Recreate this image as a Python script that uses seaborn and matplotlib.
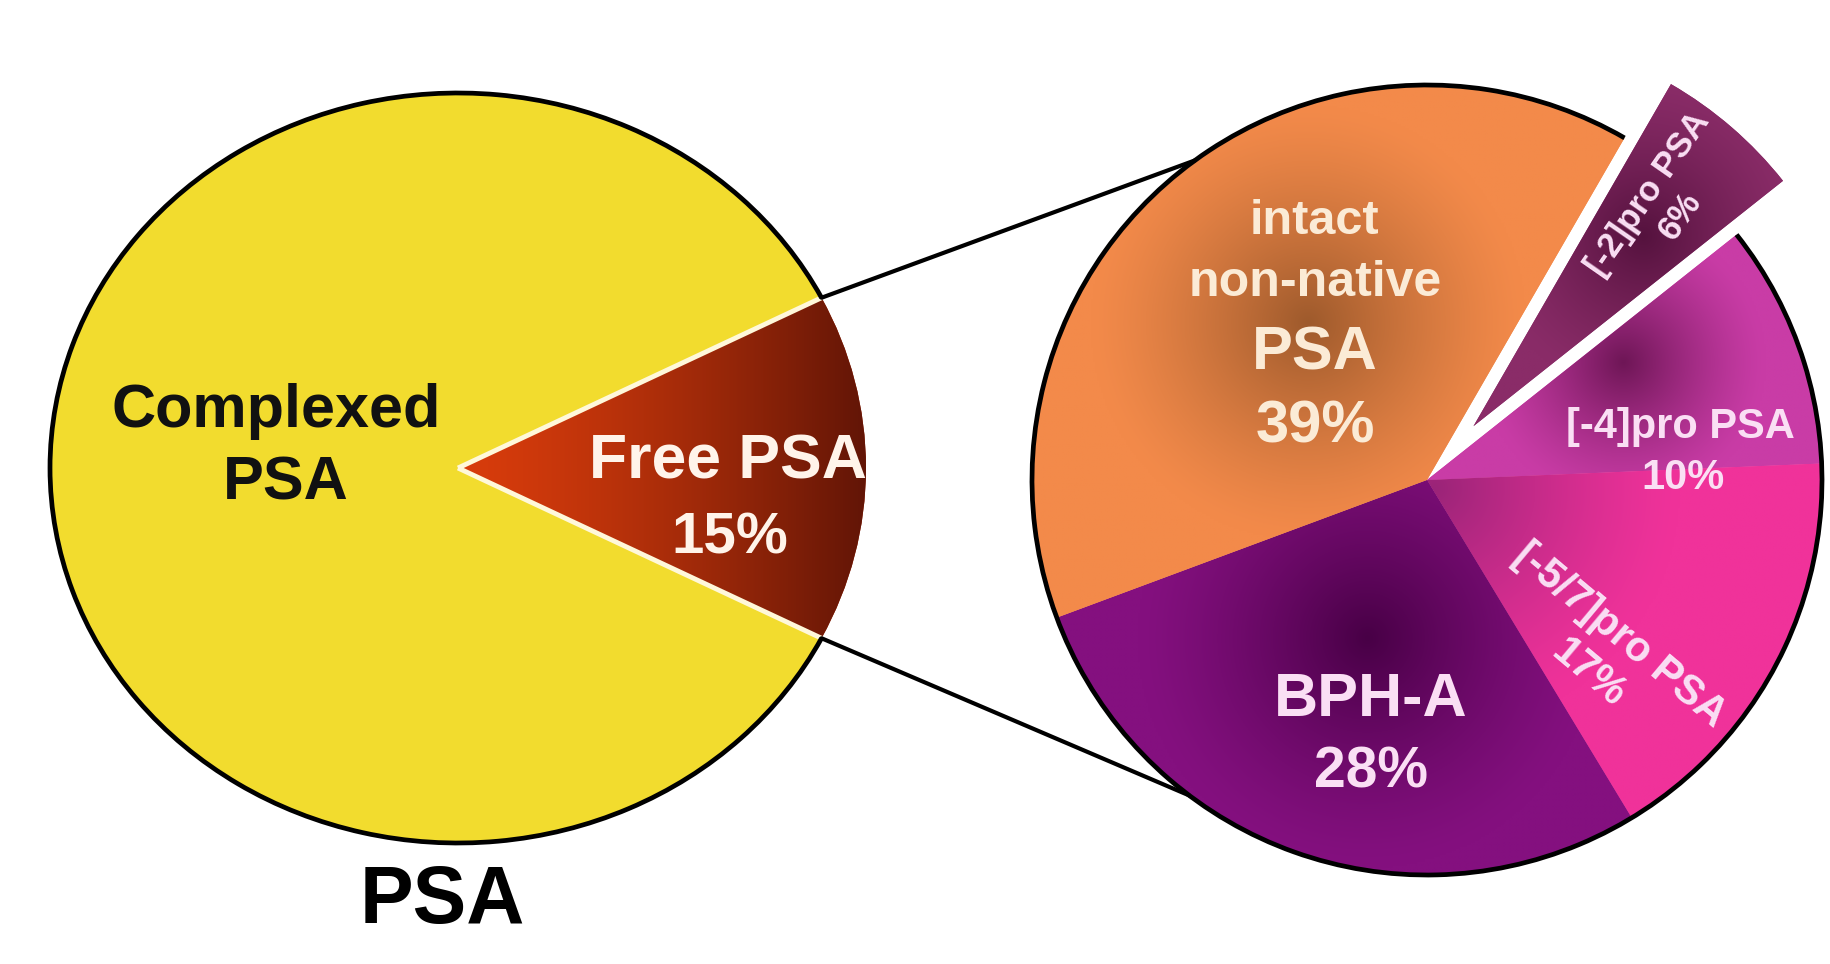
import numpy as np
import matplotlib
matplotlib.use("Agg")
import matplotlib.pyplot as plt
from matplotlib.patches import Arc, ConnectionPatch
from matplotlib.colors import to_rgb
import seaborn as sns

# ---------------- data ----------------
outer_labels = ["Free PSA", "Complexed PSA"]
outer_values = [15, 85]
inner_labels = ["[-2]pro PSA", "[-4]pro PSA", "[-5/7]pro PSA", "BPH-A", "intact non-native PSA"]
inner_values = [6, 10, 17, 28, 39]
inner_explode = [0.18, 0, 0, 0, 0]
chart_title = "PSA"

# ---------------- style ----------------
sns.set_theme(style="white")
plt.rcParams["font.family"] = ["Liberation Sans", "DejaVu Sans"]

outer_colors = ["#A82C0C", "#F2DC2E"]
inner_base = ["#8A2C68", "#C93CA6", "#F0329A", "#84107F", "#F38A4A"]
inner_dark = ["#55123E", "#6E1656", "#9A2478", "#480046", "#9E5A2C"]
inner_spot = [(0.55, 0.62, 0.40), (0.50, 0.30, 0.36), (0.02, -0.02, 0.62),
              (-0.15, -0.40, 0.58), (-0.30, 0.40, 0.55)]

W, H = 1831, 964
fig = plt.figure(figsize=(W / 100, H / 100), dpi=100)
fig.patch.set_facecolor("white")


def pie_axes(cx, cy, rx, ry, L):
    ax = fig.add_axes([(cx - L * rx) / W, (H - cy - L * ry) / H,
                       2 * L * rx / W, 2 * L * ry / H])
    return ax


def finish(ax, L):
    ax.set_xlim(-L, L)
    ax.set_ylim(-L, L)
    ax.set_aspect("auto")
    ax.axis("off")


def gradient(ax, wedge, func, L, n=500):
    xs = np.linspace(-L, L, n)
    X, Y = np.meshgrid(xs, xs)
    rgb = func(X, Y)
    im = ax.imshow(rgb, extent=(-L, L, -L, L), origin="lower", aspect="auto",
                   interpolation="bilinear", zorder=wedge.get_zorder() + 0.1)
    im.set_clip_path(wedge)


def radial(base, dark, cx, cy, R, p=1.3):
    b = np.array(to_rgb(base))
    d = np.array(to_rgb(dark))

    def f(X, Y):
        t = np.clip(1 - np.hypot(X - cx, Y - cy) / R, 0, 1) ** p
        return b[None, None, :] * (1 - t[..., None]) + d[None, None, :] * t[..., None]
    return f


def linear_x(c0, c1, x0, x1):
    a = np.array(to_rgb(c0))
    b = np.array(to_rgb(c1))

    def f(X, Y):
        t = np.clip((X - x0) / (x1 - x0), 0, 1) ** 1.4
        return a[None, None, :] * (1 - t[..., None]) + b[None, None, :] * t[..., None]
    return f


# ---------------- left pie ----------------
L1 = 1.12
ax1 = pie_axes(458, 468, 408, 375, L1)
w1, _ = ax1.pie(outer_values, startangle=-outer_values[0] * 1.8, counterclock=True,
                colors=outer_colors, wedgeprops=dict(linewidth=0))
finish(ax1, L1)
free = w1[0]
gradient(ax1, free, linear_x("#D83C0C", "#621506", 0.0, 1.0), L1)
for th in (free.theta1, free.theta2):
    ax1.plot([0, np.cos(np.radians(th))], [0, np.sin(np.radians(th))],
             color="#FFF8DA", lw=3.5, solid_capstyle="butt", zorder=3)
ax1.add_patch(Arc((0, 0), 2, 2, theta1=free.theta2, theta2=free.theta1 + 360,
                  color="black", lw=3.4, zorder=4))

# ---------------- right pie ----------------
L2 = 1.3
ax2 = pie_axes(1427, 480, 395, 395, L2)
w2, _ = ax2.pie(inner_values, startangle=60, counterclock=False, explode=inner_explode,
                colors=inner_base, wedgeprops=dict(linewidth=0))
finish(ax2, L2)
for w, b, d, s in zip(w2, inner_base, inner_dark, inner_spot):
    gradient(ax2, w, radial(b, d, s[0], s[1], s[2]), L2)
small = w2[0]
ax2.add_patch(Arc((0, 0), 2, 2, theta1=small.theta2, theta2=small.theta1 + 360,
                  color="black", lw=3.4, zorder=4))

# connecting lines
for tA, tB in ((free.theta2, 126), (free.theta1, 233)):
    con = ConnectionPatch(xyA=(np.cos(np.radians(tA)), np.sin(np.radians(tA))), coordsA=ax1.transData,
                          xyB=(np.cos(np.radians(tB)), np.sin(np.radians(tB))), coordsB=ax2.transData,
                          color="black", lw=3.0)
    fig.add_artist(con)


# ---------------- texts ----------------
def T(px, py, s, size, color, rot=0, ls=1.2):
    fig.text(px / W, 1 - py / H, s, fontsize=size, color=color, fontweight="bold",
             ha="center", va="center", rotation=rot, rotation_mode="anchor",
             multialignment="center", linespacing=ls)


T(276, 412, "Complexed", 44, "#111111")
T(286, 484, "PSA", 44, "#111111")
T(728, 462, "Free PSA", 45, "#FFF4EA")
T(730, 538, "15%", 42, "#FFF4EA")
T(442, 902, chart_title, 58, "black")

cream = "#FBEBD6"
T(1314, 222, "intact", 35, cream)
T(1315, 283, "non-native", 36, cream)
T(1315, 354, "PSA", 44, cream)
T(1315, 427, "39%", 43, cream)

pink = "#FADFF4"
# label of the exploded slice, placed along its bisector
mid = np.radians((small.theta1 + small.theta2) / 2)
cxw, cyw = small.center
lx, ly = cxw + 0.74 * np.cos(mid), cyw + 0.74 * np.sin(mid)
ax2.text(lx, ly, "[-2]pro PSA\n6%", fontsize=25, color=pink, fontweight="bold",
         ha="center", va="center", rotation=np.degrees(mid) + 6, rotation_mode="anchor",
         multialignment="center", linespacing=1.25, zorder=6)
T(1680, 427, "[-4]pro PSA", 30, pink)
T(1683, 478, "10%", 30, pink)
T(1604, 654, "[-5/7]pro PSA\n17%", 30, pink, rot=-40, ls=1.3)
T(1371, 701, "BPH-A", 44, pink)
T(1371, 773, "28%", 41, pink)

fig.savefig("out.png", dpi=100, facecolor="white")
